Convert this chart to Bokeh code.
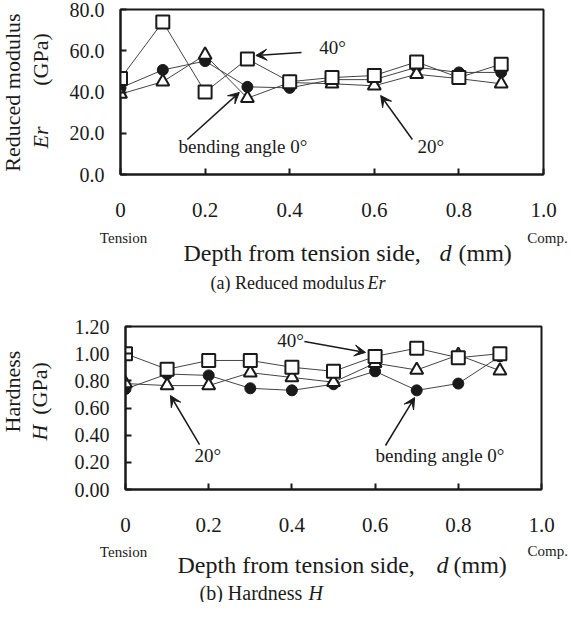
import math
from bokeh.plotting import figure
from bokeh.models import Range1d, FixedTicker, NumeralTickFormatter, Label, Arrow, VeeHead
from bokeh.core.properties import value
from bokeh.layouts import column, row
from bokeh.embed import file_html
from bokeh.resources import INLINE

# ---------------- data ----------------
depth = [0.0, 0.1, 0.2, 0.3, 0.4, 0.5, 0.6, 0.7, 0.8, 0.9]

er_0deg = [42.0, 50.7, 55.0, 42.5, 42.0, 46.0, 46.0, 52.0, 49.5, 49.5]
er_20deg = [39.0, 45.0, 58.0, 37.0, 44.6, 44.0, 43.0, 48.6, 46.5, 44.0]
er_40deg = [46.5, 74.0, 40.0, 56.0, 45.0, 47.0, 48.0, 54.6, 47.0, 53.5]

h_0deg = [0.74, 0.85, 0.84, 0.745, 0.73, 0.775, 0.87, 0.73, 0.78, 0.98]
h_20deg = [0.78, 0.765, 0.765, 0.86, 0.825, 0.79, 0.93, 0.88, 0.99, 0.875]
h_40deg = [1.00, 0.885, 0.95, 0.95, 0.90, 0.87, 0.98, 1.04, 0.97, 1.00]

x_ticks = [0.0, 0.2, 0.4, 0.6, 0.8, 1.0]
er_ticks = [0, 20, 40, 60, 80]
h_ticks = [0.0, 0.2, 0.4, 0.6, 0.8, 1.0, 1.2]

FONT = "Liberation Serif"
INK = "#1a1a1a"
LEFT_W = 55
TOTAL_W = 570


def base_fig(height, ymax, yticks, yfmt, mb):
    p = figure(width=TOTAL_W - LEFT_W, height=height,
               x_range=Range1d(0, 1.0), y_range=Range1d(0, ymax),
               output_backend="svg", toolbar_location=None,
               min_border_left=mb[0], min_border_right=mb[1],
               min_border_top=mb[2], min_border_bottom=mb[3])
    p.background_fill_color = "white"
    p.border_fill_color = "white"
    p.outline_line_color = INK
    p.outline_line_width = 2
    p.xgrid.visible = False
    p.ygrid.visible = False
    for ax in (p.xaxis[0], p.yaxis[0]):
        ax.axis_line_color = INK
        ax.axis_line_width = 2
        ax.major_tick_in = 6
        ax.major_tick_out = 0
        ax.major_tick_line_width = 2
        ax.major_tick_line_color = INK
        ax.minor_tick_line_color = None
        ax.major_label_text_font = FONT
        ax.major_label_text_color = INK
    p.xaxis.major_label_text_font_size = "21px"
    p.yaxis.major_label_text_font_size = "20px"
    p.xaxis.ticker = FixedTicker(ticks=x_ticks)
    p.xaxis.formatter = NumeralTickFormatter(format="0.0")
    p.xaxis.major_label_overrides = {0: "0"}
    p.xaxis.major_label_standoff = 28
    p.yaxis.ticker = FixedTicker(ticks=yticks)
    p.yaxis.formatter = NumeralTickFormatter(format=yfmt)
    p.yaxis.major_label_standoff = 16
    return p


def text_fig(w, h, mb_top=0, mb_bottom=0):
    fh = h - mb_top - mb_bottom
    f = figure(width=w, height=h, x_range=Range1d(0, w), y_range=Range1d(0, fh),
               output_backend="svg", toolbar_location=None, title=None,
               x_axis_location=None, y_axis_location=None,
               min_border_left=0, min_border_right=0,
               min_border_top=mb_top, min_border_bottom=mb_bottom)
    f.outline_line_color = None
    f.xgrid.visible = False
    f.ygrid.visible = False
    f.background_fill_color = "white"
    f.border_fill_color = "white"
    return f


def add_series(p, ys0, ys20, ys40):
    for ys in (ys0, ys20, ys40):
        p.line(depth, ys, line_color="#444444", line_width=1)
    p.scatter(depth, ys0, marker="circle", size=11, fill_color=INK, line_color=INK, line_width=1)
    p.scatter(depth, ys20, marker="triangle", size=13, fill_color="white", line_color=INK, line_width=2)
    p.scatter(depth, ys40, marker="square", size=13, fill_color="white", line_color=INK, line_width=2)


def txt(p, x, y, s, size="21px", style="normal", align="left"):
    p.add_layout(Label(x=x, y=y, text=s, text_font=FONT, text_font_size=size,
                       text_font_style=style, text_align=align, text_baseline="middle",
                       text_color=INK))


def vtxt(f, x, y, s, size="22px", style="normal"):
    f.text(x=[x], y=[y], text=[s], angle=math.pi / 2, text_align="center",
           text_baseline="middle", text_font=value(FONT), text_font_size=value(size),
           text_font_style=style, text_color=INK)


def arrow(p, x0, y0, x1, y1):
    p.add_layout(Arrow(x_start=x0, y_start=y0, x_end=x1, y_end=y1,
                       line_color=INK, line_width=1.5,
                       end=VeeHead(size=11, fill_color=INK, line_color=INK, line_width=1)))


# ---------------- (a) Reduced modulus ----------------
H1 = 228
p1 = base_fig(H1, 80, er_ticks, "0.0", (65, 27, 9, 54))
add_series(p1, er_0deg, er_20deg, er_40deg)

txt(p1, 0.47, 61.6, "40°", size="19px")
arrow(p1, 0.428, 59.2, 0.32, 57.7)
txt(p1, 0.137, 13.6, "bending angle 0°", size="19px")
arrow(p1, 0.158, 17.0, 0.281, 39.8)
txt(p1, 0.702, 13.6, "20°", size="19px")
arrow(p1, 0.69, 17.0, 0.615, 38.3)

# frame of this helper matches p1's frame (page y 17..182)
l1 = text_fig(LEFT_W, H1, 9, 54)
vtxt(l1, 12, 82, "Reduced modulus")
vtxt(l1, 40, 115, "(GPa)")
vtxt(l1, 40, 37, "Er", style="italic")

b1 = text_fig(TOTAL_W, 72)
txt(b1, 123, 63, "Tension", size="15px", align="center")
txt(b1, 547, 63, "Comp.", size="15px", align="center")
txt(b1, 183, 48, "Depth from tension side,", size="24px")
txt(b1, 439, 48, "d", size="24px", style="italic")
txt(b1, 458, 48, "(mm)", size="24px")
txt(b1, 210, 18, "(a) Reduced modulus", size="18px")
txt(b1, 367, 18, "Er", size="18px", style="italic")

# ---------------- (b) Hardness ----------------
H2 = 241
p2 = base_fig(H2, 1.2, h_ticks, "0.00", (70, 29, 26, 52))
add_series(p2, h_0deg, h_20deg, h_40deg)

txt(p2, 0.365, 1.097, "40°", size="19px")
arrow(p2, 0.43, 1.09, 0.577, 1.009)
txt(p2, 0.166, 0.25, "20°", size="19px")
arrow(p2, 0.178, 0.331, 0.108, 0.692)
txt(p2, 0.601, 0.25, "bending angle 0°", size="19px")
arrow(p2, 0.625, 0.324, 0.695, 0.677)

# frame of this helper matches p2's frame (page y 334..497)
l2 = text_fig(LEFT_W, H2, 26, 52)
vtxt(l2, 12, 98, "Hardness")
vtxt(l2, 39, 101, "(GPa)")
vtxt(l2, 39, 57, "H", style="italic")

b2 = text_fig(TOTAL_W, 61)
txt(b2, 123, 51, "Tension", size="15px", align="center")
txt(b2, 527, 52, "Comp.", size="15px")
txt(b2, 177, 38, "Depth from tension side,", size="24px")
txt(b2, 436, 38, "d", size="24px", style="italic")
txt(b2, 453, 38, "(mm)", size="24px")
txt(b2, 199, 10, "(b) Hardness", size="20px")
txt(b2, 308, 10, "H", size="20px", style="italic")

layout = column(row(l1, p1), b1, row(l2, p2), b2)
open("out.html", "w").write(file_html(layout, INLINE))
